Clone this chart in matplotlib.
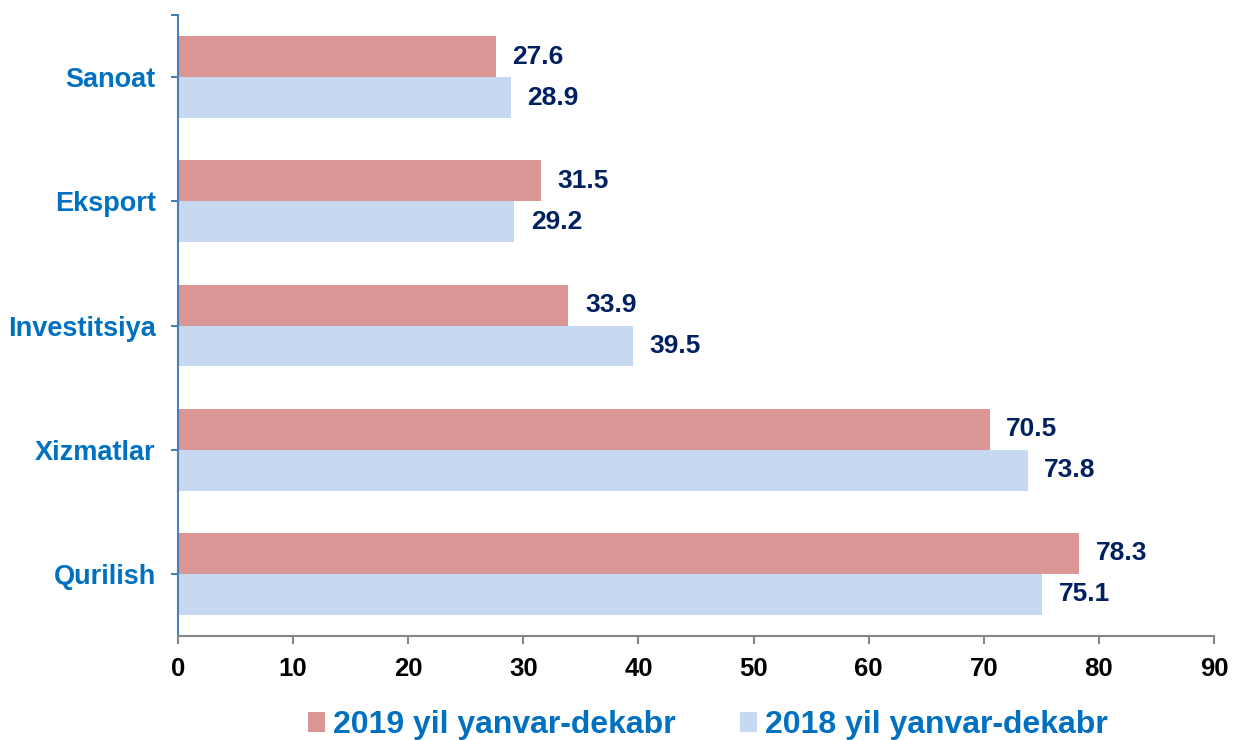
import matplotlib
matplotlib.use("Agg")
import matplotlib.pyplot as plt
import numpy as np

plt.rcParams['font.family'] = ['Liberation Sans', 'DejaVu Sans']

categories = ["Sanoat", "Eksport", "Investitsiya", "Xizmatlar", "Qurilish"]
values_2019 = [27.6, 31.5, 33.9, 70.5, 78.3]
values_2018 = [28.9, 29.2, 39.5, 73.8, 75.1]
series_names = ["2019 yil yanvar-dekabr", "2018 yil yanvar-dekabr"]
xticks = [0, 10, 20, 30, 40, 50, 60, 70, 80, 90]

c2019 = "#D99694"
c2018 = "#C6D9F0"
cat_color = "#0070C0"
val_color = "#002060"

fig = plt.figure(figsize=(12.33, 7.40), dpi=100)
ax = fig.add_axes([178/1233, 1-636/740, (1214-178)/1233, (636-15)/740])

y = np.arange(len(categories))
h = 0.33
b1 = ax.barh(y - h/2, values_2019, height=h, color=c2019, label=series_names[0])
b2 = ax.barh(y + h/2, values_2018, height=h, color=c2018, label=series_names[1])

for bars, vals in ((b1, values_2019), (b2, values_2018)):
    for rect, v in zip(bars, vals):
        ax.annotate(f"{v:.1f}", (v, rect.get_y() + rect.get_height()/2),
                    xytext=(12, 0), textcoords="offset points",
                    ha="left", va="center", fontsize=19, fontweight="bold",
                    color=val_color)

ax.set_xlim(0, 90)
ax.set_ylim(len(categories) - 0.5, -0.5)
ax.set_xticks(xticks)
ax.set_xticklabels([str(t) for t in xticks], fontsize=18.5, fontweight="bold", color="black")
ax.set_yticks([-0.5] + list(y))
ax.set_yticklabels([""] + categories, fontsize=19.5, fontweight="bold", color=cat_color)

for s in ("top", "right"):
    ax.spines[s].set_visible(False)
ax.spines["left"].set_color("#4A7EBB")
ax.spines["left"].set_linewidth(1.5)
ax.spines["bottom"].set_color("#868686")
ax.spines["bottom"].set_linewidth(1.5)
ax.tick_params(axis="y", length=5, width=1.5, color="#4A7EBB", pad=11)
ax.tick_params(axis="x", length=6, width=1.5, color="#868686", pad=9)

fig.legend(handles=[b1, b2], labels=series_names, loc="center",
           bbox_to_anchor=(0.574, 0.02), ncol=2, frameon=False,
           prop={"size": 23, "weight": "bold"}, labelcolor=cat_color,
           handlelength=0.55, handleheight=0.55, handletextpad=0.25,
           columnspacing=2.0, borderpad=0)

fig.savefig("out.png", dpi=100)
